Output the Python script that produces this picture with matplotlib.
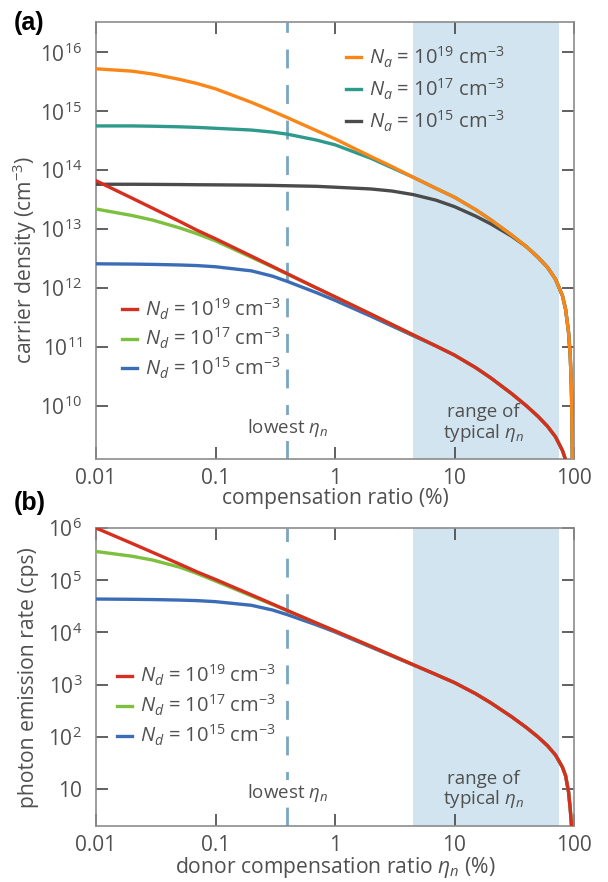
import numpy as np
import matplotlib
matplotlib.use("Agg")
import matplotlib.pyplot as plt
from matplotlib.ticker import FixedLocator, FixedFormatter, NullLocator
import matplotlib.transforms as mtransforms

plt.rcParams['font.family'] = ['Open Sans', 'DejaVu Sans']
plt.rcParams['mathtext.fontset'] = 'custom'
plt.rcParams['mathtext.rm'] = 'Open Sans'
plt.rcParams['mathtext.it'] = 'Open Sans:italic'
plt.rcParams['mathtext.bf'] = 'Open Sans:bold'

# ---------------- data (compensation ratio in %, values as log10) ----------------
eta = [0.01, 0.02, 0.03, 0.05, 0.07, 0.1, 0.2, 0.3, 0.4, 0.7, 1, 2, 3, 4.5, 7,
       10, 15, 20, 30, 40, 50, 60, 70, 80, 85, 90, 93, 95, 96, 97]

# panel (a): carrier density, log10(cm^-3)
log_p_Na19 = [15.72, 15.68, 15.63, 15.54, 15.47, 15.38, 15.15, 15.00, 14.89, 14.67,
              14.53, 14.23, 14.06, 13.88, 13.69, 13.54, 13.33, 13.16, 12.90, 12.70,
              12.52, 12.35, 12.15, 11.87, 11.64, 11.25, 10.85, 10.35, 9.85, 9.00]
log_p_Na17 = [14.75, 14.75, 14.745, 14.735, 14.725, 14.71, 14.68, 14.645, 14.61, 14.51,
              14.43, 14.20, 14.04, 13.88, 13.69, 13.54, 13.33, 13.16, 12.90, 12.70,
              12.52, 12.35, 12.15, 11.87, 11.64, 11.25, 10.85, 10.35, 9.85, 9.00]
log_p_Na15 = [13.76, 13.76, 13.758, 13.755, 13.752, 13.75, 13.745, 13.74, 13.735, 13.725,
              13.71, 13.68, 13.645, 13.585, 13.49, 13.38, 13.22, 13.09, 12.88, 12.70,
              12.52, 12.35, 12.15, 11.87, 11.64, 11.25, 10.85, 10.35, 9.85, 9.00]
log_n_Nd19 = [13.82, 13.525, 13.35, 13.13, 12.98, 12.835, 12.54, 12.365, 12.24, 12.00,
              11.85, 11.555, 11.38, 11.205, 11.015, 10.86, 10.649, 10.477, 10.208, 9.999,
              9.82, 9.652, 9.474, 9.242, 9.084, 8.75, 8.40, 8.20, 8.05, 7.80]
log_n_Nd17 = [13.34, 13.23, 13.15, 13.02, 12.92, 12.80, 12.52, 12.355, 12.235, 12.00,
              11.85, 11.555, 11.38, 11.205, 11.015, 10.86, 10.649, 10.477, 10.208, 9.999,
              9.82, 9.652, 9.474, 9.242, 9.084, 8.75, 8.40, 8.20, 8.05, 7.80]
log_n_Nd15 = [12.41, 12.405, 12.40, 12.39, 12.38, 12.36, 12.29, 12.20, 12.11, 11.92,
              11.79, 11.52, 11.355, 11.19, 11.015, 10.86, 10.649, 10.477, 10.208, 9.999,
              9.82, 9.652, 9.474, 9.242, 9.084, 8.75, 8.40, 8.20, 8.05, 7.80]

# panel (b): photon emission rate, log10(cps)
log_r_Nd19 = [6.00, 5.705, 5.53, 5.31, 5.16, 5.015, 4.72, 4.545, 4.42, 4.18,
              4.03, 3.735, 3.56, 3.385, 3.195, 3.04, 2.829, 2.657, 2.388, 2.179,
              2.00, 1.832, 1.654, 1.422, 1.26, 0.95, 0.62, 0.35, 0.15, -0.20]
log_r_Nd17 = [5.55, 5.46, 5.385, 5.25, 5.13, 4.985, 4.70, 4.535, 4.415, 4.18,
              4.03, 3.735, 3.56, 3.385, 3.195, 3.04, 2.829, 2.657, 2.388, 2.179,
              2.00, 1.832, 1.654, 1.422, 1.26, 0.95, 0.62, 0.35, 0.15, -0.20]
log_r_Nd15 = [4.64, 4.635, 4.63, 4.62, 4.61, 4.59, 4.52, 4.43, 4.34, 4.145,
              4.01, 3.72, 3.55, 3.38, 3.195, 3.04, 2.829, 2.657, 2.388, 2.179,
              2.00, 1.832, 1.654, 1.422, 1.26, 0.95, 0.62, 0.35, 0.15, -0.20]

lowest_eta = 0.4
typical_range = (4.5, 75)

na_labels = [r'$N_a$ = 10$^{19}$ cm$^{-3}$', r'$N_a$ = 10$^{17}$ cm$^{-3}$',
             r'$N_a$ = 10$^{15}$ cm$^{-3}$']
nd_labels = [r'$N_d$ = 10$^{19}$ cm$^{-3}$', r'$N_d$ = 10$^{17}$ cm$^{-3}$',
             r'$N_d$ = 10$^{15}$ cm$^{-3}$']
xticks = [0.01, 0.1, 1, 10, 100]
xticklabels = ['0.01', '0.1', '1', '10', '100']
yticks_a = [1e10, 1e11, 1e12, 1e13, 1e14, 1e15, 1e16]
yticklabels_a = [r'10$^{10}$', r'10$^{11}$', r'10$^{12}$', r'10$^{13}$',
                 r'10$^{14}$', r'10$^{15}$', r'10$^{16}$']
yticks_b = [10, 1e2, 1e3, 1e4, 1e5, 1e6]
yticklabels_b = ['10', r'10$^{2}$', r'10$^{3}$', r'10$^{4}$', r'10$^{5}$', r'10$^{6}$']

# ---------------- style ----------------
C_OR = '#FA8618'
C_TE = '#2E9A8C'
C_GY = '#4B4B4B'
C_RD = '#D62F1F'
C_GR = '#7DBF3F'
C_BL = '#3B6DB6'
C_SHADE = '#D1E4EF'
C_DASH = '#7BA5C2'
TXT = '#505050'
LW = 2.4

W, H = 608, 882
fig = plt.figure(figsize=(W / 100, H / 100), dpi=100)

def px_axes(l, t, r, b):
    return fig.add_axes([l / W, 1 - b / H, (r - l) / W, (b - t) / H])

ax_a = px_axes(96, 22, 574, 459)
ax_b = px_axes(96, 528, 574, 825.7)

x = np.array(eta)

def style(ax, yticks, yticklabels, ylim):
    ax.set_xscale('log')
    ax.set_yscale('log')
    ax.set_xlim(0.01, 100)
    ax.set_ylim(*ylim)
    ax.xaxis.set_major_locator(FixedLocator(xticks))
    ax.xaxis.set_major_formatter(FixedFormatter(xticklabels))
    ax.xaxis.set_minor_locator(NullLocator())
    ax.yaxis.set_major_locator(FixedLocator(yticks))
    ax.yaxis.set_major_formatter(FixedFormatter(yticklabels))
    ax.yaxis.set_minor_locator(NullLocator())
    ax.tick_params(which='both', direction='in', length=8.6, width=1.2,
                   color='#454545', top=True, right=True, labelsize=15,
                   labelcolor=TXT)
    ax.tick_params(axis='x', pad=6.5)
    ax.tick_params(axis='y', pad=10)
    for s in ax.spines.values():
        s.set_color('#8C8C8C')
        s.set_linewidth(1.2)
    ax.axvspan(typical_range[0], typical_range[1], color=C_SHADE, lw=0, zorder=0)
    ax.axvline(lowest_eta, color=C_DASH, lw=2.0, dashes=(6.8, 6.0), zorder=1)

leg_kw = dict(loc='upper left', frameon=False, fontsize=14.5, handlelength=0.75,
              handletextpad=0.4, borderpad=0, borderaxespad=0, labelcolor=TXT)

# ---------------- panel (a) ----------------
style(ax_a, yticks_a, yticklabels_a, (10 ** 9.097, 10 ** 16.514))
l_gy, = ax_a.plot(x, 10 ** np.array(log_p_Na15), color=C_GY, lw=LW, zorder=3)
l_te, = ax_a.plot(x, 10 ** np.array(log_p_Na17), color=C_TE, lw=LW, zorder=3)
l_or, = ax_a.plot(x, 10 ** np.array(log_p_Na19), color=C_OR, lw=LW, zorder=4)
l_bl, = ax_a.plot(x, 10 ** np.array(log_n_Nd15), color=C_BL, lw=LW, zorder=3)
l_gr, = ax_a.plot(x, 10 ** np.array(log_n_Nd17), color=C_GR, lw=LW, zorder=3)
l_rd, = ax_a.plot(x, 10 ** np.array(log_n_Nd19), color=C_RD, lw=LW, zorder=4)

leg1 = ax_a.legend([l_or, l_te, l_gy], na_labels, bbox_to_anchor=(0.523, 0.948),
                   labelspacing=0.33, **leg_kw)
ax_a.add_artist(leg1)
ax_a.legend([l_rd, l_gr, l_bl], nd_labels, bbox_to_anchor=(0.054, 0.372),
            labelspacing=0.22, **leg_kw)

trans_a = mtransforms.blended_transform_factory(ax_a.transData, ax_a.transAxes)
ax_a.text(lowest_eta, 0.071, r'lowest $\eta_n$', transform=trans_a, ha='center',
          va='center', fontsize=13.5, color=TXT, zorder=2,
          bbox=dict(fc='white', ec='none', pad=1.5))
ax_a.text(17.4, 0.082, 'range of\n' + r'typical $\eta_n$', transform=trans_a,
          ha='center', va='center', fontsize=13.5, color=TXT, linespacing=1.05,
          zorder=2)
ax_a.set_xlabel('compensation ratio (%)', fontsize=15.2, color=TXT)
ax_a.set_ylabel(r'carrier density (cm$^{-3}$)', fontsize=15.2, color=TXT)
ax_a.xaxis.set_label_coords(0.5, -0.066)
ax_a.yaxis.set_label_coords(-0.12, 0.455)

# ---------------- panel (b) ----------------
style(ax_b, yticks_b, yticklabels_b, (2.0, 1e6))
m_bl, = ax_b.plot(x, 10 ** np.array(log_r_Nd15), color=C_BL, lw=LW, zorder=3)
m_gr, = ax_b.plot(x, 10 ** np.array(log_r_Nd17), color=C_GR, lw=LW, zorder=3)
m_rd, = ax_b.plot(x, 10 ** np.array(log_r_Nd19), color=C_RD, lw=LW, zorder=4)
ax_b.legend([m_rd, m_gr, m_bl], nd_labels, bbox_to_anchor=(0.044, 0.547),
            labelspacing=0.24, **leg_kw)

trans_b = mtransforms.blended_transform_factory(ax_b.transData, ax_b.transAxes)
ax_b.text(lowest_eta, 0.11, r'lowest $\eta_n$', transform=trans_b, ha='center',
          va='center', fontsize=13.5, color=TXT, zorder=2,
          bbox=dict(fc='white', ec='none', pad=1.5))
ax_b.text(17.4, 0.12, 'range of\n' + r'typical $\eta_n$', transform=trans_b,
          ha='center', va='center', fontsize=13.5, color=TXT, linespacing=1.05,
          zorder=2)
ax_b.set_xlabel(r'donor compensation ratio $\eta_n$ (%)', fontsize=15.2, color=TXT)
ax_b.set_ylabel('photon emission rate (cps)', fontsize=15.2, color=TXT)
ax_b.xaxis.set_label_coords(0.5, -0.098)
ax_b.yaxis.set_label_coords(-0.12, 0.497)

fig.text(14 / W, 1 - 23 / H, '(a)', fontsize=18, fontweight='bold', va='center',
         ha='left', family=['Liberation Sans', 'DejaVu Sans'], color='black')
fig.text(14 / W, 1 - 503 / H, '(b)', fontsize=18, fontweight='bold', va='center',
         ha='left', family=['Liberation Sans', 'DejaVu Sans'], color='black')

fig.savefig('out.png', dpi=100)
